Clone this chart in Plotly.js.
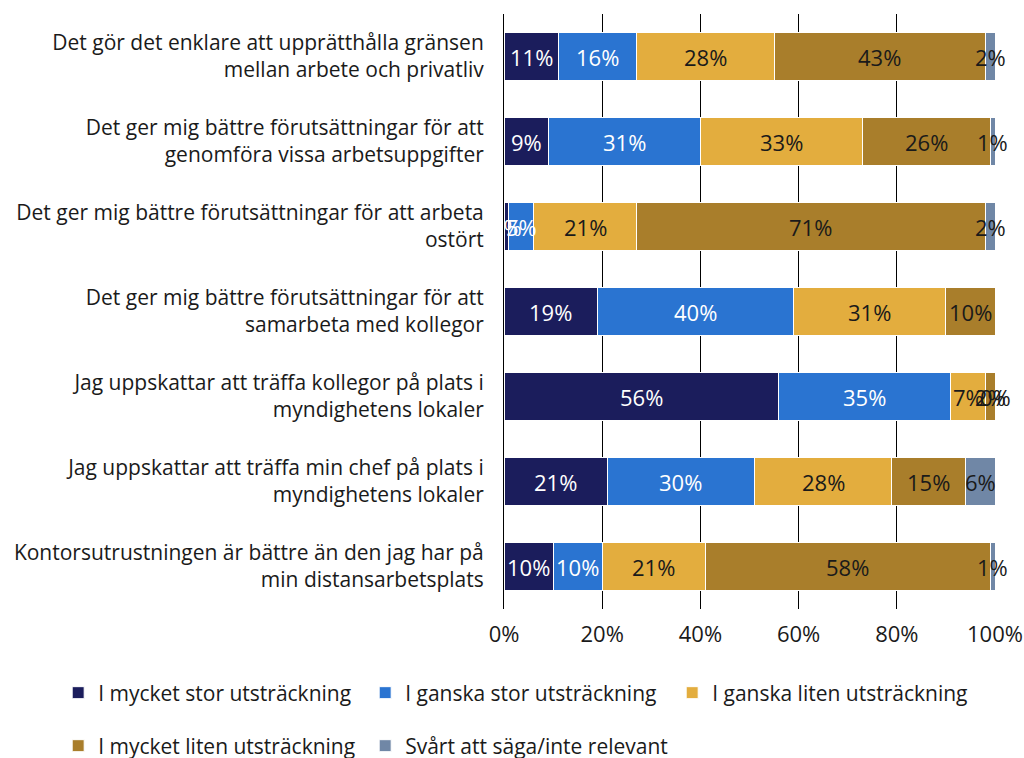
<!DOCTYPE html>
<html>
<head>
<meta charset="utf-8">
<script src="https://cdn.plot.ly/plotly-3.0.1.min.js"></script>
<style>html,body{margin:0;padding:0;background:#fff;}#chart{width:1024px;height:758px;}</style>
</head>
<body>
<div id="chart"></div>
<script>
const categories = [
  "Det gör det enklare att upprätthålla gränsen<br>mellan arbete och privatliv",
  "Det ger mig bättre förutsättningar för att<br>genomföra vissa arbetsuppgifter",
  "Det ger mig bättre förutsättningar för att arbeta<br>ostört",
  "Det ger mig bättre förutsättningar för att<br>samarbeta med kollegor",
  "Jag uppskattar att träffa kollegor på plats i<br>myndighetens lokaler",
  "Jag uppskattar att träffa min chef på plats i<br>myndighetens lokaler",
  "Kontorsutrustningen är bättre än den jag har på<br>min distansarbetsplats"
];
const seriesNames = [
  "I mycket stor utsträckning",
  "I ganska stor utsträckning",
  "I ganska liten utsträckning",
  "I mycket liten utsträckning",
  "Svårt att säga/inte relevant"
];
const mycketStor  = [11, 9, 1, 19, 56, 21, 10];
const ganskaStor  = [16, 31, 5, 40, 35, 30, 10];
const ganskaLiten = [28, 33, 21, 31, 7, 28, 21];
const mycketLiten = [43, 26, 71, 10, 2, 15, 58];
const svart       = [2, 1, 2, null, 0, 6, 1];
const xTicks = [0, 20, 40, 60, 80, 100];

const colors = ["#1b1d5c", "#2a74d1", "#e3ad3e", "#a97e2b", "#7087a6"];
const textColors = ["#ffffff", "#ffffff", "#1a1a1a", "#1a1a1a", "#1a1a1a"];
const series = [mycketStor, ganskaStor, ganskaLiten, mycketLiten, svart];
const FONT = "'Open Sans', 'Liberation Sans', sans-serif";
const FS = 21;
const FSNUM = 22;

const traces = series.map((vals, i) => ({
  type: "bar",
  orientation: "h",
  name: seriesNames[i],
  y: categories,
  x: vals.map(v => v === null ? 0 : v),
  marker: {color: colors[i], line: {color: "#ffffff", width: 1}},
  hoverinfo: "x+name",
  legend: i < 3 ? "legend" : "legend2"
}));

const annotations = [];
categories.forEach((cat, r) => {
  let cum = 0;
  series.forEach((vals, i) => {
    const v = vals[r];
    if (v !== null) {
      annotations.push({
        x: cum + v / 2, y: cat, xref: "x", yref: "y",
        text: v + "%", showarrow: false,
        font: {family: FONT, size: FSNUM, color: textColors[i]}
      });
      cum += v;
    }
  });
});

const legendCommon = {
  orientation: "h", xref: "paper", yref: "paper", xanchor: "left", yanchor: "middle",
  font: {family: FONT, size: FS, color: "#1a1a1a"},
  entrywidth: 262, entrywidthmode: "pixels", traceorder: "normal",
  bgcolor: "rgba(0,0,0,0)"
};

const layout = {
  width: 1024, height: 758,
  margin: {l: 504, r: 29, t: 14, b: 149, autoexpand: false},
  paper_bgcolor: "#ffffff", plot_bgcolor: "#ffffff",
  barmode: "stack", bargap: 0.43,
  font: {family: FONT, size: FS, color: "#1a1a1a"},
  xaxis: {
    range: [0, 100], tickvals: xTicks, ticktext: xTicks.map(t => t + "%"),
    showgrid: true, gridcolor: "#000000", gridwidth: 1,
    zeroline: false, showline: false, ticks: "", ticklabelstandoff: 10,
    tickfont: {family: FONT, size: FSNUM, color: "#1a1a1a"}, fixedrange: true
  },
  yaxis: {
    autorange: "reversed", showgrid: false, zeroline: false, showline: true,
    linecolor: "#000000", linewidth: 1, ticks: "", ticklabelstandoff: 15,
    tickfont: {family: FONT, size: FS, color: "#1a1a1a"}, fixedrange: true
  },
  showlegend: true,
  legend: Object.assign({x: -0.908, y: -0.1412}, legendCommon),
  legend2: Object.assign({x: -0.908, y: -0.2303}, legendCommon),
  annotations: annotations
};

Plotly.newPlot("chart", traces, layout, {displayModeBar: false, staticPlot: true});
</script>
</body>
</html>
